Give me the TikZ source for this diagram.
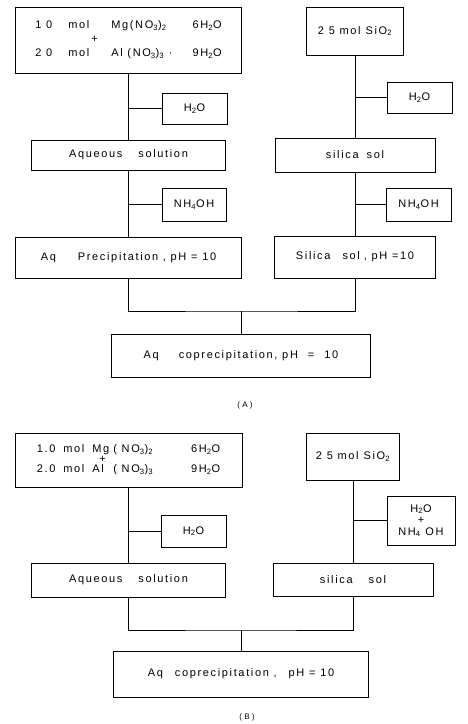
\documentclass[tikz,border=0pt]{standalone}
\usepackage{fontspec}
\setmainfont{Liberation Sans}
\newfontfamily\boxfont[LetterSpace=15]{Liberation Sans}
\newcommand\chsub[1]{\textsubscript{#1}}
\begin{document}
\begin{tikzpicture}[x=1pt, y=1pt, line width=0.8pt,
  stepbox/.style={draw, inner sep=0pt, font=\boxfont\fontsize{11}{13}\selectfont},
  caption/.style={font=\fontsize{8}{9}\selectfont}]
  \useasboundingbox (0,0) rectangle (468,-724);
  % column positions
  \def\lx{128.5}
  \def\rx{355}
  \def\rxb{353}
  % draw scheme (A) boxes
  \node[stepbox, minimum width=226, minimum height=66] (mixA) at (\lx,-40)
  {\raisebox{2pt}{\begin{tabular}{@{}l@{\hspace{16pt}}l@{\hspace{22pt}}l@{\hspace{20pt}}l@{}}
    1 0 & mol & Mg(NO\chsub{3})\chsub{2} & 6H\chsub{2}O\\[1pt]
    & & \hspace{-20pt}+ & \\[1pt]
    2 0 & mol & Al (NO\chsub{3})\chsub{3} · & 9H\chsub{2}O
  \end{tabular}}\hspace{18pt}};
  \node[stepbox, minimum width=97, minimum height=48] (silA) at (\rx,-31)
  {2 5 mol\hspace{5pt}SiO\chsub{2}};
  \node[stepbox, minimum width=65, minimum height=31] (wA1) at (194.5,-108.5)
  {H\chsub{2}O};
  \node[stepbox, minimum width=65, minimum height=31] (wA2) at (419.5,-97.5)
  {H\chsub{2}O};
  \node[stepbox, minimum width=194, minimum height=30] (aqA) at (\lx,-155)
  {Aqueous\hspace{16pt}solution};
  \node[stepbox, minimum width=160, minimum height=34] (solA) at (\rx,-155)
  {silica\hspace{8pt}sol};
  \node[stepbox, minimum width=64, minimum height=33] (amA1) at (194,-204.5)
  {NH\chsub{4}OH};
  \node[stepbox, minimum width=65, minimum height=33] (amA2) at (418.5,-204.5)
  {NH\chsub{4}OH};
  \node[stepbox, minimum width=226, minimum height=41] (prA) at (\lx,-257.5)
  {Aq\hspace{22pt}Precipitation , pH = 10};
  \node[stepbox, minimum width=161, minimum height=42] (psA) at (\rx,-257)
  {Silica\hspace{12pt}sol\hspace{4pt}, pH =10};
  \node[stepbox, minimum width=259, minimum height=43] (coA) at (241,-355.5)
  {Aq\hspace{20pt}coprecipitation, pH\hspace{10pt}=\hspace{10pt}10};
  \node[caption] (capA) at (245,-405) {( A )};
  % draw scheme (A) connectors
  \draw (mixA) -- (aqA);
  \draw (aqA) -- (prA);
  \draw (silA) -- (solA);
  \draw (solA) -- (psA);
  \draw (wA1.west) -- (wA1.west -| mixA.south);
  \draw (wA2.west) -- (wA2.west -| silA.south);
  \draw (amA1.west) -- (amA1.west -| aqA.south);
  \draw (amA2.west) -- (amA2.west -| solA.south);
  \coordinate (jA) at (241,-311);
  \draw (prA.south) |- (jA) -| (psA.south);
  \draw (jA) -- (coA.north);
  % draw scheme (B) boxes
  \node[stepbox, minimum width=227, minimum height=54] (mixB) at (\lx,-460)
  {\raisebox{6pt}{\begin{tabular}{@{}l@{\hspace{8pt}}l@{\hspace{8pt}}l@{\hspace{4pt}}l@{\hspace{38pt}}l@{}}
    1.0 & mol & Mg & ( NO\chsub{3})\chsub{2} & 6H\chsub{2}O\\[-3pt]
    & & & \hspace{-14pt}+ & \\[-3pt]
    2.0 & mol & Al & ( NO\chsub{3})\chsub{3} & 9H\chsub{2}O
  \end{tabular}}\hspace{18pt}};
  \node[stepbox, minimum width=93, minimum height=47] (silB) at (\rxb,-456.5)
  {2 5 mol\hspace{5pt}SiO\chsub{2}};
  \node[stepbox, minimum width=65, minimum height=32] (wB) at (193.5,-531)
  {H\chsub{2}O};
  \node[stepbox, minimum width=68, minimum height=49, align=center] (wnB)
  at (421,-520.5) {H\chsub{2}O\\[-2pt]+\\[-1pt]NH\chsub{4} OH};
  \node[stepbox, minimum width=194, minimum height=34] (aqB) at (\lx,-580)
  {Aqueous\hspace{16pt}solution};
  \node[stepbox, minimum width=160, minimum height=33] (solB) at (\rxb,-579.5)
  {silica\hspace{16pt}sol};
  \node[stepbox, minimum width=255, minimum height=46] (coB) at (241,-674)
  {Aq\hspace{12pt}coprecipitation ,\hspace{12pt}pH = 10};
  \node[caption] (capB) at (247,-717) {( B )};
  % draw scheme (B) connectors
  \draw (mixB) -- (aqB);
  \draw (silB) -- (solB);
  \draw (wB.west) -- (wB.west -| mixB.south);
  \draw (wnB.west) -- (wnB.west -| silB.south);
  \coordinate (jB) at (241,-630);
  \draw (aqB.south) |- (jB) -| (solB.south);
  \draw (jB) -- (coB.north);
\end{tikzpicture}
\end{document}
